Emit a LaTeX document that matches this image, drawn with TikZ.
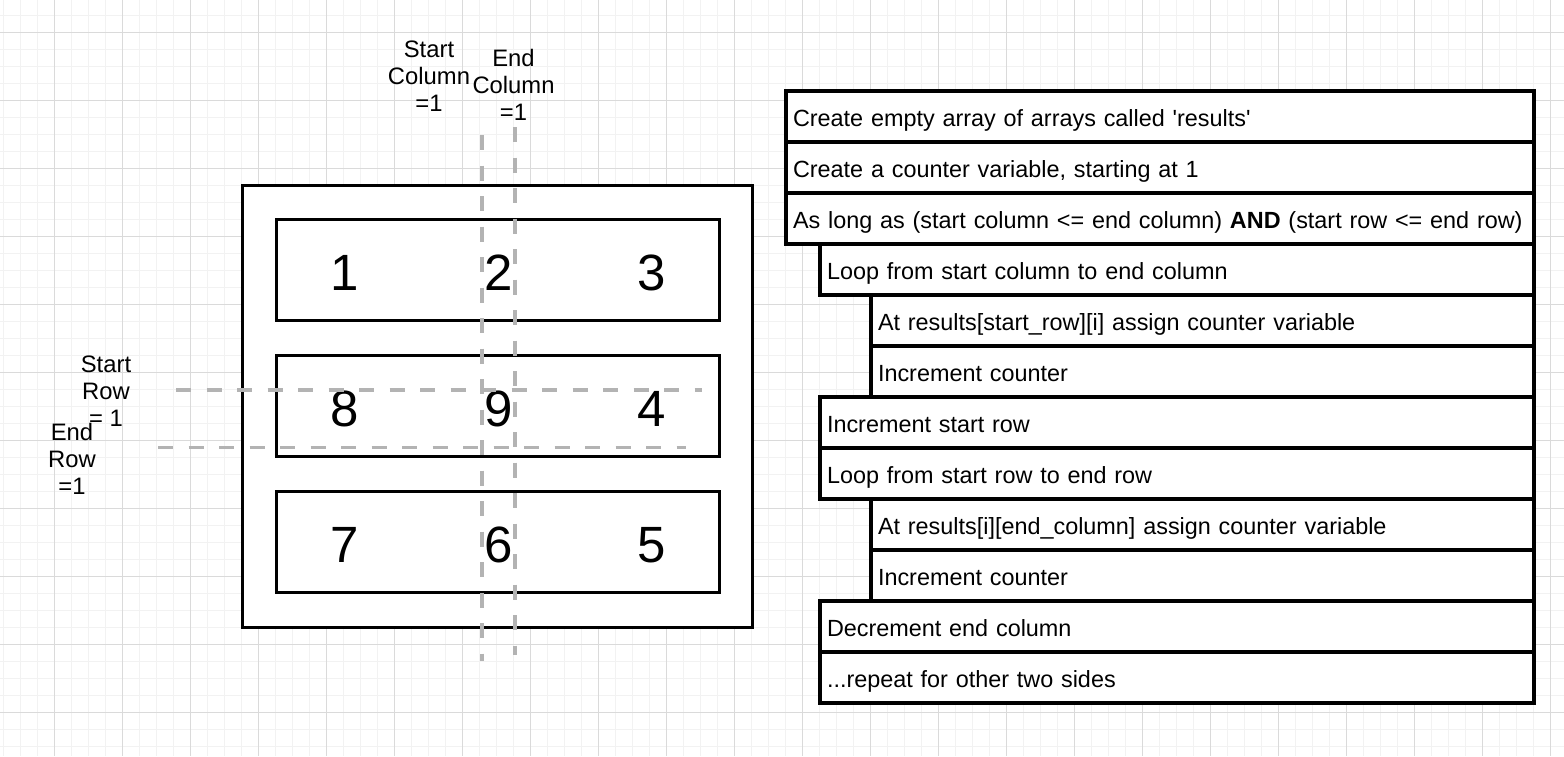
\documentclass[tikz,border=0pt]{standalone}
\usepackage{fontspec}
\setmainfont{Liberation Sans}[Ligatures=TeXOff]
\definecolor{gridminor}{HTML}{F2F2F2}
\definecolor{gridmajor}{HTML}{DADADA}
\definecolor{dashgray}{HTML}{B3B3B3}
\begin{document}
\begin{tikzpicture}[x=1pt,y=-1pt,
  minorline/.style={draw=gridminor,line width=1pt},
  majorline/.style={draw=gridmajor,line width=1pt},
  lbl/.style={font=\fontsize{23.8}{27}\selectfont,align=center,inner sep=0pt,anchor=base},
  num/.style={font=\fontsize{51}{51}\selectfont,inner sep=0pt,anchor=base},
  plainbox/.style={draw,line width=3pt,fill=white,outer sep=0pt,anchor=north west},
  stepbox/.style={draw,line width=3.4pt,fill=white,outer sep=0pt,anchor=north west,
    minimum height=51pt,inner xsep=7pt,inner ysep=0pt,text height=25pt,text depth=5pt,
    align=left,font=\fontsize{23.4}{26}\selectfont},
  lvzero/.style={stepbox,text width=734pt},
  lvone/.style={stepbox,text width=700pt},
  lvtwo/.style={stepbox,text width=649pt},
  guide/.style={draw=dashgray,line width=3.4pt,dash pattern=on 15pt off 15.5pt}
]
\useasboundingbox (0,0) rectangle (1564,756);
\fill[white] (0,0) rectangle (1564,756);
% grid
\foreach \i in {0,...,92} \draw[minorline] ({3.3+17*\i},0) -- ({3.3+17*\i},756);
\foreach \j in {0,...,44} \draw[minorline] (0,{15.3+17*\j}) -- (1564,{15.3+17*\j});
\foreach \i in {0,...,22} \draw[majorline] ({54.3+68*\i},0) -- ({54.3+68*\i},756);
\foreach \j in {0,...,10} \draw[majorline] (0,{32.3+68*\j}) -- (1564,{32.3+68*\j});

% left matrix
\node[plainbox,minimum width=510pt,minimum height=442pt] (outer) at (242.7,185) {};
\node[plainbox,minimum width=442.3pt,minimum height=101pt] (rowA) at (276.7,219) {};
\node[plainbox,minimum width=442.3pt,minimum height=101pt] (rowB) at (276.7,355) {};
\node[plainbox,minimum width=442.3pt,minimum height=101pt] (rowC) at (276.7,491) {};

\node[num] (n1) at (345,290) {1};
\node[num] (n2) at (499,290) {2};
\node[num] (n3) at (652,290) {3};
\node[num] (n8) at (345,426) {8};
\node[num] (n9) at (499,426) {9};
\node[num] (n4) at (652,426) {4};
\node[num] (n7) at (345,562) {7};
\node[num] (n6) at (499,562) {6};
\node[num] (n5) at (652,562) {5};

% guide lines
\coordinate (scTop) at (482,135);
\coordinate (scBot) at (482,661);
\coordinate (ecTop) at (515,127);
\coordinate (ecBot) at (515,655);
\coordinate (srL) at (176,390);
\coordinate (srR) at (702,390);
\coordinate (erL) at (158,447.5);
\coordinate (erR) at (686,447.5);
\draw[guide] (scTop) -- (scBot);
\draw[guide] (ecTop) -- (ecBot);
\draw[guide] (srL) -- (srR);
\draw[guide] (erL) -- (erR);

% labels (anchor = baseline of last line)
\node[lbl] (startcol) at (429,111.7) {Start\\Column\\=1};
\node[lbl] (endcol) at (513.5,120.7) {End\\Column\\=1};
\node[lbl] (startrow) at (106,426) {Start\\Row\\= 1};
\node[lbl] (endrow) at (72,494) {End\\Row\\=1};

% right list
\node[lvzero] (s1) at (786,91) {Create empty array of arrays called 'results'};
\node[lvzero] (s2) at (786,142) {Create a counter variable, starting at 1};
\node[lvzero] (s3) at (786,193) {As long as (start column <= end column) \textbf{AND} (start row <= end row)};
\node[lvone] (s4) at (820,244) {Loop from start column to end column};
\node[lvtwo] (s5) at (871,295) {At results[start\_row][i] assign counter variable};
\node[lvtwo] (s6) at (871,346) {Increment counter};
\node[lvone] (s7) at (820,397) {Increment start row};
\node[lvone] (s8) at (820,448) {Loop from start row to end row};
\node[lvtwo] (s9) at (871,499) {At results[i][end\_column] assign counter variable};
\node[lvtwo] (s10) at (871,550) {Increment counter};
\node[lvone] (s11) at (820,601) {Decrement end column};
\node[lvone] (s12) at (820,652) {...repeat for other two sides};
\end{tikzpicture}
\end{document}
